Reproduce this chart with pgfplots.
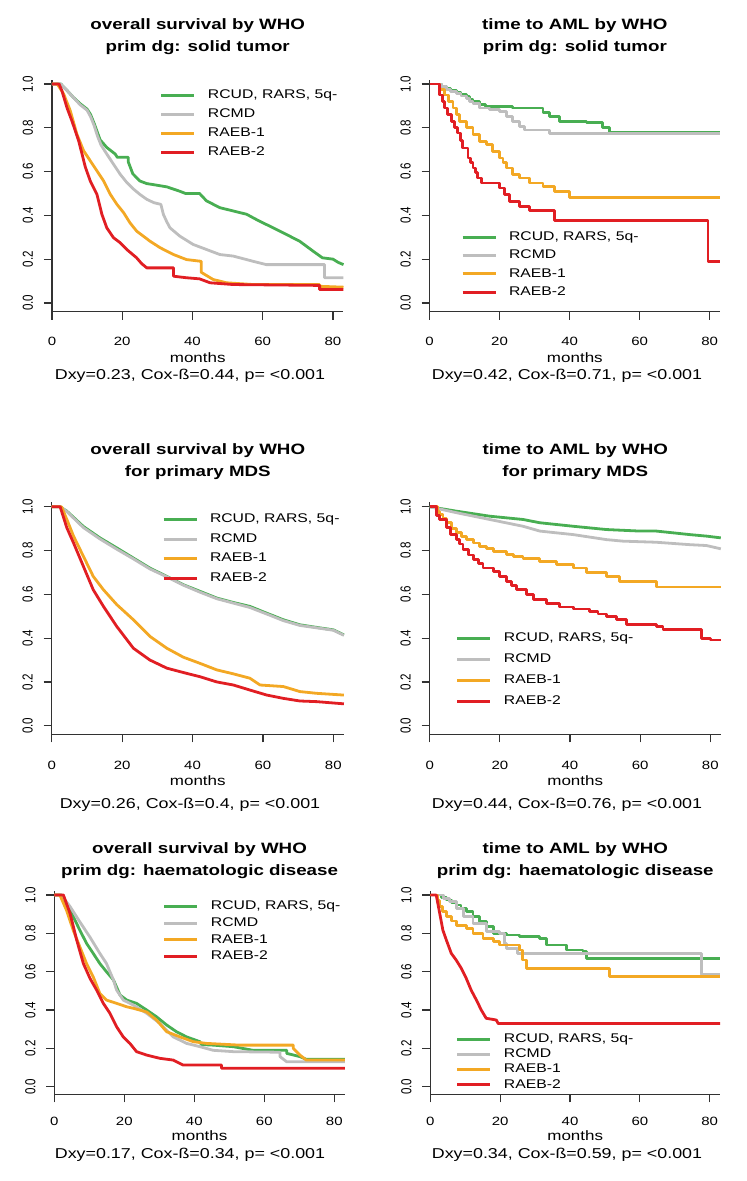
\documentclass[border=0pt]{standalone}
\usepackage{pgfplots}
\pgfplotsset{compat=1.18}
\usepackage{fontspec}
\setmainfont{Liberation Sans}
\newfontfamily\fA[FakeStretch=1.25]{Liberation Sans}
\newfontfamily\fY[FakeStretch=0.8]{Liberation Sans}
\definecolor{cgreen}{RGB}{72,174,82}
\definecolor{cgray}{RGB}{190,190,190}
\definecolor{corange}{RGB}{243,168,36}
\definecolor{cred}{RGB}{225,30,35}
\definecolor{caxis}{RGB}{50,50,50}
\newcommand\titlefont{\fA\bfseries\fontsize{15}{17}\selectfont}
\newcommand\legfont{\fA\fontsize{12.6}{15}\selectfont}
\newcommand\tickfont{\fA\fontsize{12}{14}\selectfont}
\newcommand\ytickfont{\fY\fontsize{14.5}{17}\selectfont}
\newcommand\labfont{\fA\fontsize{13.6}{16}\selectfont}
\newcommand\subfont{\fA\fontsize{14.3}{17}\selectfont}
\pgfplotsset{
  km/.style={scale only axis, xmin=0, xmax=83, ymin=-0.04, ymax=1.02,
    axis x line*=bottom, axis y line*=left,
    axis line style={line width=1.2pt, color=caxis, -},
    xtick={0,20,40,60,80}, xticklabels={0,20,40,60,80},
    ytick={0,0.2,0.4,0.6,0.8,1}, yticklabels={0.0,0.2,0.4,0.6,0.8,1.0},
    xtick pos=left, ytick pos=left,
    tick align=outside, major tick length=8pt,
    every tick/.style={line width=1.2pt, color=caxis},
    xticklabel style={font=\tickfont, anchor=base},
    yticklabel style={font=\ytickfont, xshift=-11pt, rotate=90, anchor=base},
    clip=false, legend cell align=left,
    legend image code/.code={\draw[##1, line width=3pt] (0pt,0pt) -- (33pt,0pt);},
    legend style={draw=none, fill=none, inner sep=0pt, outer sep=0pt, anchor=north west,
      font=\legfont, column sep=12pt, nodes={inner sep=0pt, text height=9pt, text depth=2.6pt}},
  },
  g/.style={const plot, line width=2.8pt, color=cgreen, line join=round},
  s/.style={const plot, line width=2.8pt, color=cgray, line join=round},
  o/.style={const plot, line width=2.8pt, color=corange, line join=round},
  r/.style={const plot, line width=2.8pt, color=cred, line join=round},
}
\begin{document}
\begin{tikzpicture}
\path[use as bounding box] (0pt,0pt) rectangle (747pt,1181pt);

% ---------- top left ----------
\begin{axis}[km, at={(52pt,869.3pt)}, anchor=south west, width=291.5pt, height=232.1pt,
  xticklabel style={yshift=-26.3pt},
  legend style={at={(0.3705,0.9556)}, row sep=7.4pt}]
\addplot[g, sharp plot] coordinates {(0,1) (2.5,1) (4.3,0.97) (6,0.94) (8,0.91) (10,0.885) (11,0.86) (12,0.82) (13.7,0.745) (15.6,0.71) (18,0.68) (18.6,0.665) (21.7,0.665) (21.7,0.645) (23,0.59) (25,0.557) (27,0.545) (29,0.54) (32.7,0.53) (36.4,0.51) (38,0.50) (42,0.50) (44,0.466) (47.8,0.435) (51.6,0.42) (55.4,0.405) (59,0.374) (63,0.343) (66.7,0.313) (70.5,0.282) (74.3,0.237) (77,0.206) (80,0.2) (81.5,0.185) (83,0.175)};
\addlegendentry{RCUD, RARS, 5q-}
\addplot[s, sharp plot] coordinates {(0,1) (2.5,1) (4.3,0.97) (6,0.94) (8,0.905) (10,0.88) (11,0.85) (12,0.81) (13,0.76) (14,0.72) (15.6,0.68) (17.5,0.634) (19.4,0.588) (21.3,0.55) (23.2,0.52) (25,0.496) (27,0.473) (29,0.458) (31,0.45) (31.7,0.405) (32.7,0.37) (33.6,0.343) (36.4,0.305) (40.2,0.267) (44,0.244) (47.8,0.221) (51.6,0.214) (57.3,0.19) (61,0.175) (77.6,0.175) (77.6,0.115) (83,0.115)};
\addlegendentry{RCMD}
\addplot[o, sharp plot] coordinates {(0,1) (1.5,1) (3.3,0.955) (5.2,0.878) (7.1,0.77) (9,0.695) (10.9,0.649) (12.8,0.603) (14.7,0.557) (16.6,0.496) (18.5,0.45) (20.4,0.412) (22.2,0.366) (24.1,0.328) (26,0.305) (27.9,0.282) (30.8,0.252) (34.6,0.221) (38.3,0.198) (42.5,0.19) (42.5,0.14) (43.5,0.13) (45.9,0.107) (49.7,0.092) (57.3,0.084) (76.2,0.084) (76.2,0.076) (83,0.072)};
\addlegendentry{RAEB-1}
\addplot[r, sharp plot] coordinates {(0,1) (2,1) (2.8,0.97) (4.3,0.89) (5.7,0.83) (7.6,0.74) (9.5,0.62) (10.9,0.557) (12.8,0.496) (14.2,0.405) (15.6,0.343) (17.5,0.298) (19.4,0.275) (21.3,0.244) (24.1,0.206) (25.5,0.18) (27,0.16) (34.6,0.16) (34.6,0.122) (38.3,0.115) (42,0.11) (45,0.092) (51.6,0.084) (76.2,0.08) (76.2,0.061) (83,0.061)};
\addlegendentry{RAEB-2}
\end{axis}

% ---------- top right ----------
\begin{axis}[km, at={(429.5pt,869.3pt)}, anchor=south west, width=290.7pt, height=232.1pt,
  xticklabel style={yshift=-26.3pt},
  legend style={at={(0.1084,0.346)}, row sep=6.8pt}]
\addplot[g] coordinates {(0,1) (2,1) (3.5,0.99) (4.8,0.98) (6,0.97) (7.6,0.96) (9,0.952) (10.5,0.944) (11.5,0.93) (12.4,0.92) (14.3,0.906) (16,0.898) (23.8,0.89) (32.4,0.868) (34.3,0.852) (37.1,0.83) (44.8,0.825) (49.5,0.8) (51.4,0.78) (83,0.78)};
\addlegendentry{RCUD, RARS, 5q-}
\addplot[s] coordinates {(0,1) (2,1) (3.5,0.988) (4.8,0.975) (6,0.965) (7.6,0.955) (9,0.945) (10.5,0.935) (11.5,0.92) (12.4,0.91) (14.3,0.89) (17.1,0.883) (20,0.875) (21.9,0.852) (23.8,0.83) (25.7,0.807) (27.1,0.79) (34.3,0.772) (83,0.772)};
\addlegendentry{RCMD}
\addplot[o] coordinates {(0,1) (1.9,1) (3,0.975) (4.3,0.95) (5.5,0.92) (6.7,0.89) (7.6,0.86) (8.6,0.83) (10.5,0.8) (12.4,0.77) (14.3,0.738) (16.2,0.723) (18.1,0.693) (20,0.662) (21,0.64) (21.9,0.616) (23.8,0.586) (25.7,0.571) (28.6,0.548) (32.4,0.533) (35.7,0.51) (40,0.48) (83,0.48)};
\addlegendentry{RAEB-1}
\addplot[r] coordinates {(0,1) (1.9,1) (2.9,0.95) (3.6,0.92) (4.3,0.89) (5.2,0.86) (6.2,0.83) (7.2,0.8) (8.1,0.776) (8.8,0.74) (9.5,0.708) (11,0.662) (11.7,0.64) (12.4,0.616) (13.1,0.594) (13.8,0.571) (14.8,0.548) (20,0.525) (21.4,0.495) (22.9,0.464) (25.7,0.441) (28.6,0.422) (35.7,0.377) (79.5,0.19) (83,0.19)};
\addlegendentry{RAEB-2}
\end{axis}

% ---------- middle left ----------
\begin{axis}[km, at={(51.7pt,446.5pt)}, anchor=south west, width=292.2pt, height=232.1pt,
  xticklabel style={yshift=-27pt},
  legend style={at={(0.3775,0.951)}, row sep=8pt}]
\addplot[g, sharp plot] coordinates {(0,1) (2.4,1) (4.3,0.98) (9,0.91) (13.7,0.858) (18.5,0.812) (23.2,0.766) (27.9,0.72) (32.7,0.682) (37.4,0.644) (42.1,0.614) (46.9,0.583) (51.6,0.563) (56.3,0.545) (61.1,0.514) (65.8,0.484) (70.5,0.461) (75.3,0.449) (80,0.438) (83,0.415)};
\addlegendentry{RCUD, RARS, 5q-}
\addplot[s, sharp plot] coordinates {(0,1) (2.4,1) (4.3,0.978) (9,0.905) (13.7,0.853) (18.5,0.806) (23.2,0.762) (27.9,0.716) (32.7,0.68) (37.4,0.642) (42.1,0.61) (46.9,0.58) (51.6,0.56) (56.3,0.54) (61.1,0.51) (65.8,0.48) (70.5,0.458) (75.3,0.447) (80,0.436) (83,0.413)};
\addlegendentry{RCMD}
\addplot[o, sharp plot] coordinates {(0,1) (2.8,1) (4.3,0.942) (6.2,0.866) (9,0.774) (11.8,0.682) (14.7,0.621) (18.5,0.553) (23.2,0.484) (27.9,0.408) (32.7,0.354) (37.4,0.313) (42.1,0.285) (46.9,0.255) (51.6,0.237) (56.3,0.217) (59.2,0.186) (65.8,0.179) (70.5,0.156) (75.3,0.148) (83,0.14)};
\addlegendentry{RAEB-1}
\addplot[r, sharp plot] coordinates {(0,1) (2.4,1) (4.3,0.904) (6.2,0.835) (9,0.728) (11.8,0.621) (14.7,0.545) (18.5,0.453) (23.2,0.354) (27.9,0.3) (32.7,0.263) (37.4,0.243) (42.1,0.224) (46.9,0.2) (51.6,0.186) (56.3,0.163) (61.1,0.14) (65.8,0.125) (70.5,0.113) (75.3,0.11) (83,0.1)};
\addlegendentry{RAEB-2}
\end{axis}

% ---------- middle right ----------
\begin{axis}[km, at={(429.7pt,446.5pt)}, anchor=south west, width=291.1pt, height=232.1pt,
  xticklabel style={yshift=-27pt},
  legend style={at={(0.0903,0.4386)}, row sep=9.5pt}]
\addplot[g, sharp plot] coordinates {(0,1) (7.6,0.98) (17.1,0.957) (26.6,0.942) (31.4,0.927) (40.9,0.911) (50.4,0.896) (59.9,0.889) (64.6,0.889) (69.4,0.881) (74.1,0.873) (78.9,0.866) (83,0.858)};
\addlegendentry{RCUD, RARS, 5q-}
\addplot[s, sharp plot] coordinates {(0,1) (7.6,0.973) (17.1,0.942) (26.6,0.911) (31.4,0.889) (36.1,0.881) (40.9,0.873) (50.4,0.85) (55.1,0.843) (64.6,0.838) (74.1,0.827) (78.9,0.823) (83,0.808)};
\addlegendentry{RCMD}
\addplot[o] coordinates {(0,1) (1.5,1) (2.2,0.98) (2.9,0.965) (3.8,0.945) (4.8,0.927) (6.2,0.9) (7.6,0.881) (9,0.865) (10.5,0.85) (12.4,0.835) (14.3,0.82) (16.2,0.808) (18.1,0.797) (21.9,0.782) (24,0.772) (26.6,0.762) (31.4,0.751) (36.1,0.736) (40.9,0.72) (44.7,0.698) (50.4,0.682) (54.2,0.66) (64.6,0.634) (83,0.634)};
\addlegendentry{RAEB-1}
\addplot[r] coordinates {(0,1) (1,1) (2,0.96) (2.9,0.942) (4.8,0.904) (6,0.875) (7.6,0.85) (8.5,0.83) (9.5,0.805) (11,0.78) (12.4,0.759) (13.8,0.74) (15.2,0.72) (18.1,0.705) (20,0.68) (21.9,0.66) (23.3,0.64) (24.7,0.621) (27.6,0.598) (29.5,0.576) (33.3,0.56) (37.1,0.542) (40.9,0.533) (45.6,0.522) (48,0.51) (50.4,0.5) (53.2,0.484) (56.1,0.461) (64.6,0.453) (66.5,0.441) (77.4,0.4) (80,0.392) (83,0.392)};
\addlegendentry{RAEB-2}
\end{axis}

% ---------- bottom left ----------
\begin{axis}[km, at={(54.3pt,86.6pt)}, anchor=south west, width=290.5pt, height=203.2pt,
  xticklabel style={yshift=-23.3pt},
  legend style={at={(0.374,0.9547)}, row sep=5.2pt}]
\addplot[g, sharp plot] coordinates {(0,1) (2,1) (3.5,0.957) (5.4,0.887) (7.3,0.817) (9.2,0.748) (11.1,0.696) (13,0.643) (14.9,0.6) (16.9,0.557) (18.8,0.478) (20.7,0.452) (23.5,0.435) (26.4,0.4) (29.2,0.365) (32.1,0.322) (34.9,0.287) (37.8,0.26) (41.6,0.235) (42,0.22) (45.4,0.217) (51.1,0.209) (56.8,0.19) (66.4,0.19) (66.4,0.174) (70.2,0.157) (72,0.143) (83,0.143)};
\addlegendentry{RCUD, RARS, 5q-}
\addplot[s, sharp plot] coordinates {(0,1) (2,1) (4.5,0.94) (7.3,0.86) (10.2,0.78) (13,0.696) (14.9,0.643) (16.9,0.557) (17.8,0.504) (19.7,0.452) (22.6,0.426) (26.4,0.383) (30.2,0.33) (34,0.26) (37.8,0.226) (41.6,0.209) (45.4,0.19) (51.1,0.183) (64.5,0.18) (64.5,0.157) (66.4,0.13) (83,0.13)};
\addlegendentry{RCMD}
\addplot[o, sharp plot] coordinates {(0,1) (1.6,1) (3.5,0.92) (5.4,0.817) (7.3,0.73) (9.2,0.643) (11.1,0.574) (13,0.487) (14.9,0.452) (17.8,0.435) (20.7,0.417) (22.6,0.409) (26.4,0.39) (29.2,0.348) (32.1,0.287) (35.9,0.26) (39.7,0.235) (43.5,0.226) (53,0.217) (68.3,0.217) (68.3,0.2) (70.2,0.165) (72,0.139) (83,0.139)};
\addlegendentry{RAEB-1}
\addplot[r, sharp plot] coordinates {(0,1) (2.6,1) (4.5,0.904) (6.4,0.765) (8.3,0.643) (10.2,0.565) (12.1,0.504) (14,0.435) (15.9,0.383) (17.8,0.313) (19.7,0.26) (21.6,0.226) (23.5,0.183) (26.4,0.165) (30.2,0.148) (34,0.139) (36.8,0.113) (47.8,0.113) (47.8,0.096) (83,0.096)};
\addlegendentry{RAEB-2}
\end{axis}

% ---------- bottom right ----------
\begin{axis}[km, at={(430.3pt,86.6pt)}, anchor=south west, width=289.9pt, height=203.2pt,
  xticklabel style={yshift=-23.3pt},
  legend style={at={(0.0886,0.2987)}, row sep=3.5pt}]
\addplot[g] coordinates {(0,1) (2,1) (3.3,0.987) (4.6,0.974) (6,0.96) (7.4,0.948) (8.8,0.93) (10.3,0.913) (12.2,0.887) (14.1,0.861) (16,0.835) (18,0.8) (21.8,0.791) (25.6,0.783) (31.3,0.774) (33.2,0.739) (39,0.713) (43.7,0.704) (44.7,0.67) (83,0.67)};
\addlegendentry{RCUD, RARS, 5q-}
\addplot[s] coordinates {(0,1) (2,1) (3.7,0.983) (5.5,0.965) (7.4,0.93) (9.4,0.887) (12.2,0.852) (16,0.809) (19.9,0.8) (21.3,0.748) (21.8,0.722) (25,0.696) (77.6,0.585) (83,0.585)};
\addlegendentry{RCMD}
\addplot[o] coordinates {(0,1) (1.5,1) (2.1,0.97) (2.7,0.94) (3.6,0.913) (4.6,0.887) (6,0.865) (7.4,0.843) (10.3,0.826) (12.2,0.8) (15.1,0.774) (18,0.757) (19.9,0.739) (25.6,0.713) (26.5,0.661) (27.5,0.617) (51.4,0.574) (83,0.574)};
\addlegendentry{RAEB-1}
\addplot[r, sharp plot] coordinates {(0,1) (1.7,1) (2.7,0.904) (3.6,0.817) (4.6,0.765) (6,0.696) (7.4,0.661) (8.9,0.617) (10.3,0.565) (11.7,0.504) (13.2,0.452) (14.6,0.4) (16,0.357) (18.9,0.348) (19.4,0.33) (83,0.33)};
\addlegendentry{RAEB-2}
\end{axis}

% ---------- titles and labels ----------
\node[anchor=base, font=\titlefont] at (197.75pt,1151pt) {overall survival by WHO};
\node[anchor=base, font=\titlefont] at (197.75pt,1129.3pt) {prim dg: solid tumor};
\node[anchor=base, font=\titlefont] at (574.85pt,1151pt) {time to AML by WHO};
\node[anchor=base, font=\titlefont] at (574.85pt,1129.3pt) {prim dg: solid tumor};
\node[anchor=base, font=\titlefont] at (197.8pt,726pt) {overall survival by WHO};
\node[anchor=base, font=\titlefont] at (197.8pt,704.3pt) {for primary MDS};
\node[anchor=base, font=\titlefont] at (575.25pt,726pt) {time to AML by WHO};
\node[anchor=base, font=\titlefont] at (575.25pt,704.3pt) {for primary MDS};
\node[anchor=base, font=\titlefont] at (199.55pt,327.7pt) {overall survival by WHO};
\node[anchor=base, font=\titlefont] at (199.55pt,305.3pt) {prim dg: haematologic disease};
\node[anchor=base, font=\titlefont] at (575.25pt,327.7pt) {time to AML by WHO};
\node[anchor=base, font=\titlefont] at (575.25pt,305.3pt) {prim dg: haematologic disease};

\node[anchor=base, font=\labfont] at (197.75pt,818.5pt) {months};
\node[anchor=base, font=\labfont] at (574.85pt,818.5pt) {months};
\node[anchor=base, font=\labfont] at (197.8pt,395pt) {months};
\node[anchor=base, font=\labfont] at (575.25pt,395pt) {months};
\node[anchor=base, font=\labfont] at (199.55pt,40pt) {months};
\node[anchor=base, font=\labfont] at (575.25pt,40pt) {months};

\node[anchor=base, font=\subfont] at (190pt,801pt) {Dxy=0.23, Cox-ß=0.44, p= <0.001};
\node[anchor=base, font=\subfont] at (567pt,801pt) {Dxy=0.42, Cox-ß=0.71, p= <0.001};
\node[anchor=base, font=\subfont] at (190pt,372pt) {Dxy=0.26, Cox-ß=0.4, p= <0.001};
\node[anchor=base, font=\subfont] at (567pt,372pt) {Dxy=0.44, Cox-ß=0.76, p= <0.001};
\node[anchor=base, font=\subfont] at (190pt,22pt) {Dxy=0.17, Cox-ß=0.34, p= <0.001};
\node[anchor=base, font=\subfont] at (567pt,22pt) {Dxy=0.34, Cox-ß=0.59, p= <0.001};
\end{tikzpicture}
\end{document}
